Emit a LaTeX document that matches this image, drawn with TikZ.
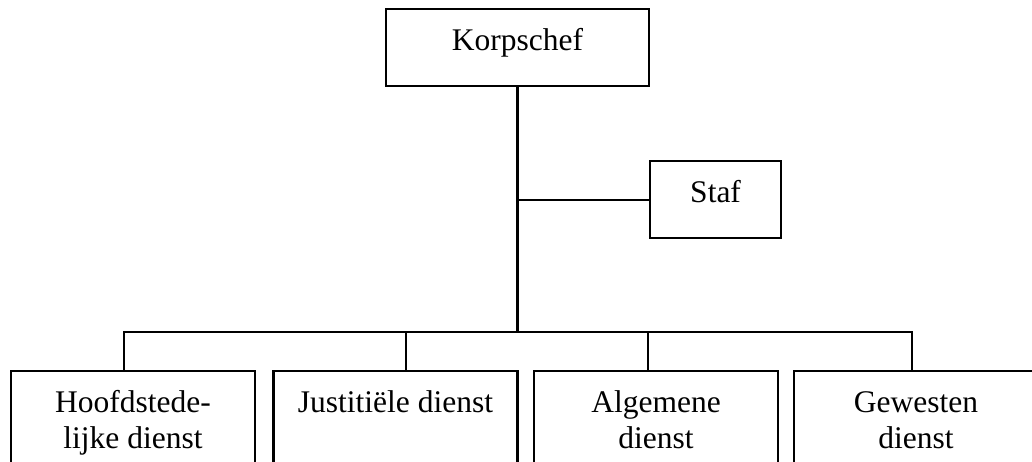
\documentclass[tikz,border=0pt]{standalone}
\usepackage{fontspec}
\setmainfont{Liberation Serif}
\usepackage{tikz}
\usetikzlibrary{shapes,positioning}
\tikzset{box/.style={rectangle,draw,line width=2.2pt,inner sep=0pt,text height=41pt,font=\fontsize{31.5}{36}\selectfont}}
\tikzset{dienst/.style={box,anchor=north,minimum width=244pt,text depth=120pt}}

\begin{document}
\begin{tikzpicture}[x=1pt,y=-1pt,line width=2.2pt]
        \useasboundingbox (0,0) rectangle (1032,461);
        \clip (0,0) rectangle (1032,461);
		\node[box,anchor=north,minimum width=263pt,text depth=36pt] (korps) at (517.5,8) {Korpschef};
        \node[box,anchor=north west,minimum width=131pt,text depth=36pt] (staf) at (649,160) {Staf};
        \node[dienst] (hoofd) at (133,370) {\parbox[t]{230pt}{\centering Hoofdstede-\\lijke dienst}};
        \node[dienst] (just) at (395.5,370) {\parbox[t]{230pt}{\centering Justitiële dienst}};
        \node[dienst] (alg) at (656,370) {\parbox[t]{230pt}{\centering Algemene\\dienst}};
        \node[dienst] (gew) at (916,370) {\parbox[t]{230pt}{\centering Gewesten\\dienst}};

        \coordinate (b1) at (124,332);
        \coordinate (b2) at (406,332);
        \coordinate (b3) at (648,332);
        \coordinate (b4) at (912,332);

        \draw (korps.south) -- (korps.south |- b1);
        \draw (korps.south |- staf.west) -- (staf.west);
        \draw (b1 |- hoofd.north) -- (b1) -- (b4) -- (b4 |- gew.north);
        \draw (b2) -- (b2 |- just.north);
        \draw (b3) -- (b3 |- alg.north);
    \end{tikzpicture}
\end{document}
